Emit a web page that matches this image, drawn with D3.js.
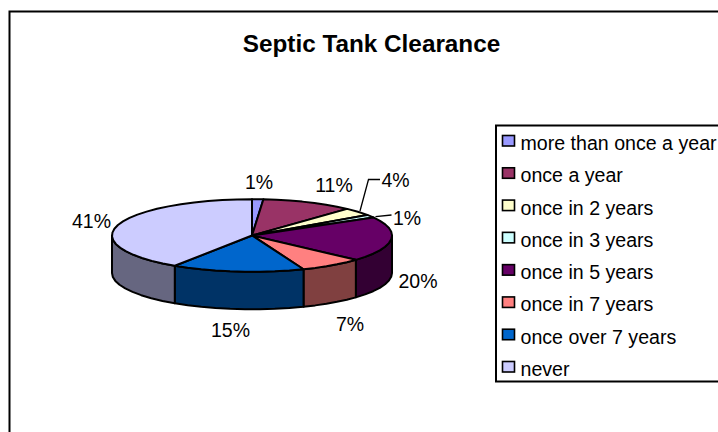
<!DOCTYPE html>
<html><head><meta charset="utf-8">
<script src="https://cdn.jsdelivr.net/npm/d3@7/dist/d3.min.js"></script>
<style>html,body{margin:0;padding:0;background:#fff;overflow:hidden}svg{display:block}text{font-family:"Liberation Sans",Arial,sans-serif;fill:#000}</style>
</head><body><svg id="c" width="718" height="432"></svg>
<script>
const title = "Septic Tank Clearance";
const categories = ["more than once a year","once a year","once in 2 years","once in 3 years","once in 5 years","once in 7 years","once over 7 years","never"];
const values = [1.3,10.6,3.5,1.3,20,7.3,15.3,40.7];
const percentLabels = ["1%","11%","4%","1%","20%","7%","15%","41%"];
const topColors = ["#9999ff","#993366","#ffffcc","#ccffff","#660066","#ff8080","#0066cc","#ccccff"];
const sideColors = ["#666699","#662244","#88887a","#7a8888","#330033","#804040","#003366","#666680"];

const svg = d3.select("#c");
const cx=252, cy=235.5, rx=140, ry=36.3, depth=37.5;
const arcs = d3.pie().sort(null).value(d=>d)(values);
const sx = d3.scaleLinear().domain([-1,1]).range([cx-rx,cx+rx]);
const sy = d3.scaleLinear().domain([-1,1]).range([cy-ry,cy+ry]);
const pt=(a,dy=0)=>[sx(Math.sin(a)),sy(-Math.cos(a))+dy];
const seg=(a0,a1,dy=0)=>{const n=Math.max(1,Math.ceil((a1-a0)/0.11));return d3.range(n+1).map(i=>pt(a0+(a1-a0)*i/n,dy));};
const line=d3.line();

svg.append("path").attr("d","M9.5,432V11.5H718").attr("fill","none").attr("stroke","#000").attr("stroke-width",2);
svg.append("text").attr("x",371.5).attr("y",52).attr("text-anchor","middle").attr("font-size",24.3).attr("font-weight","bold").text(title);

arcs.forEach((d,i)=>{
  const a0=Math.max(d.startAngle,Math.PI/2), a1=Math.min(d.endAngle,3*Math.PI/2);
  if(a1<=a0) return;
  const p=seg(a0,a1).concat(seg(a0,a1,depth).reverse());
  svg.append("path").attr("d",line(p)+"Z").attr("fill",sideColors[i]).attr("stroke","#000").attr("stroke-width",2).attr("stroke-linejoin","round");
});
arcs.forEach((d,i)=>{
  const p=[[cx,cy]].concat(seg(d.startAngle,d.endAngle));
  svg.append("path").attr("d",line(p)+"Z").attr("fill",topColors[i]).attr("stroke","#000").attr("stroke-width",2).attr("stroke-linejoin","round");
});

const leaders=[[[360,211],[368.5,179.5],[380,179.5]],[[375.5,216.7],[391.5,215]]];
leaders.forEach(l=>svg.append("path").attr("d",line(l)).attr("fill","none").attr("stroke","#000").attr("stroke-width",1.3));

const labelPos=[[259,189],[334,192],[395.5,187],[407,225],[418,288],[350,331],[230.5,337],[91.5,228]];
percentLabels.forEach((t,i)=>svg.append("text").attr("x",labelPos[i][0]).attr("y",labelPos[i][1]).attr("text-anchor","middle").attr("font-size",19.5).text(t));

svg.append("rect").attr("x",496).attr("y",125.5).attr("width",226).attr("height",256).attr("fill","#fff").attr("stroke","#000").attr("stroke-width",2);
const rowY=d3.scalePoint().domain(categories).range([150,376]);
categories.forEach((c,i)=>{
  const y=rowY(c);
  svg.append("rect").attr("x",502.5).attr("y",y-14.5).attr("width",12).attr("height",10.5).attr("fill",topColors[i]).attr("stroke","#000").attr("stroke-width",1.6);
  svg.append("text").attr("x",520.5).attr("y",y).attr("font-size",19.6).text(c);
});
</script></body></html>
